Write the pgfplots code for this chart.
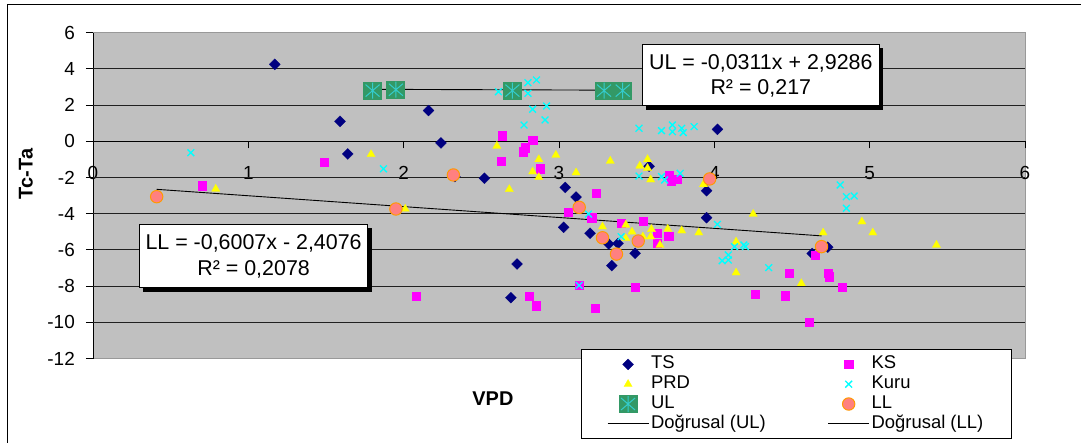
\documentclass[border=0pt]{standalone}
\usepackage{fontspec}
\setmainfont{Liberation Sans}
\usepackage{pgfplots}
\pgfplotsset{compat=1.18}
\definecolor{tsblue}{HTML}{000080}
\definecolor{ksmag}{HTML}{FF00FF}
\definecolor{prdyel}{HTML}{FFFF00}
\definecolor{kurucyan}{HTML}{00FFFF}
\definecolor{ulgreen}{HTML}{339966}
\definecolor{ulstar}{HTML}{33CCCC}
\definecolor{llfill}{HTML}{FF8080}
\definecolor{lledge}{HTML}{FF9900}
\definecolor{plotbg}{HTML}{C0C0C0}
\definecolor{gridc}{HTML}{202020}
\pgfdeclareplotmark{ulmark}{%
  \pgfpathrectangle{\pgfqpoint{-9.5bp}{-9bp}}{\pgfqpoint{19bp}{18bp}}%
  \pgfsetfillcolor{ulgreen}\pgfusepathqfill
  \pgfsetstrokecolor{ulstar}\pgfsetlinewidth{1bp}%
  \pgfpathmoveto{\pgfqpoint{-7bp}{-6bp}}\pgfpathlineto{\pgfqpoint{7bp}{6bp}}%
  \pgfpathmoveto{\pgfqpoint{-7bp}{6bp}}\pgfpathlineto{\pgfqpoint{7bp}{-6bp}}%
  \pgfpathmoveto{\pgfqpoint{0bp}{-8bp}}\pgfpathlineto{\pgfqpoint{0bp}{8bp}}%
  \pgfusepathqstroke
}
\begin{document}
\begin{tikzpicture}
\useasboundingbox (0bp,0bp) rectangle (1081bp,443bp);
\fill[white] (0bp,0bp) rectangle (1081bp,443bp);
\draw[black, line width=1.2bp] (7.7bp,0bp) -- (7.7bp,438.3bp) -- (1081bp,438.3bp);
\begin{axis}[
  at={(93bp,84.5bp)}, anchor=south west,
  scale only axis, width=932bp, height=325.8bp,
  xmin=0, xmax=6, ymin=-12, ymax=6,
  axis x line*=middle, axis y line*=left,
  hide obscured x ticks=false,
  axis background/.style={fill=plotbg, draw=gray!80, line width=1bp},
  axis line style={black, line width=1bp},
  xtick={0,1,2,3,4,5,6}, xticklabels={0,1,2,3,4,5,6},
  ytick={-12,-10,-8,-6,-4,-2,0,2,4,6}, yticklabels={-12,-10,-8,-6,-4,-2,0,2,4,6},
  tick align=outside, major tick length=7bp,
  tick style={black, line width=1bp},
  ticklabel style={font=\fontsize{19}{20}\selectfont},
  xticklabel style={anchor=center, yshift=-25bp},
  yticklabel style={anchor=east, inner xsep=0pt, xshift=-11bp},
  clip=false,
  legend columns=2,
  legend cell align=left,
  legend style={at={(0.5233,0.0282)}, anchor=north west, draw=black, line width=0.8bp, fill=white,
    font=\fontsize{18.5}{19}\selectfont, inner xsep=26bp, inner ysep=5.2bp, row sep=0.8bp,
    nodes={inner xsep=2bp, inner ysep=1bp, text height=13bp, text depth=4bp},
    /tikz/every even column/.append style={column sep=60bp}},
  legend image code/.code={\draw[mark repeat=2,mark phase=2,#1] plot coordinates {(0bp,0bp) (20.5bp,0bp) (41bp,0bp)};},
]
\pgfplotsinvokeforeach{-10,-8,-6,-4,-2,2,4}{\draw[gridc, line width=1bp] (axis cs:0,#1) -- (axis cs:6,#1);}
% TS
\addplot[only marks, mark=square*, mark size=3.9bp, color=tsblue, mark options={rotate=45, fill=tsblue, draw=tsblue, line width=0.2bp}] coordinates {
(1.17,4.25) (1.59,1.10) (1.64,-0.70) (2.16,1.70) (2.24,-0.09) (2.33,-1.95) (2.52,-2.04)
(2.69,-8.64) (2.73,-6.78) (3.03,-4.75) (3.04,-2.55) (3.11,-3.08) (3.20,-5.08) (3.32,-5.67)
(3.34,-6.87) (3.38,-5.64) (3.49,-6.19) (3.58,-1.38) (3.95,-2.73) (3.95,-4.22) (4.02,0.66)
(4.63,-6.2) (4.73,-5.85)};
\addlegendentry{TS}
% KS
\addplot[only marks, mark=square*, mark size=4.1bp, color=ksmag, mark options={fill=ksmag, draw=ksmag, line width=0.2bp}] coordinates {
(0.70,-2.45) (1.49,-1.13) (2.08,-8.55) (2.625,-1.10) (2.634,0.31) (2.77,-0.57) (2.78,-0.35)
(2.81,-8.55) (2.83,0.07) (2.85,-9.08) (2.88,-1.51) (3.06,-3.89) (3.13,-7.96) (3.21,-4.22)
(3.23,-9.21) (3.24,-2.84) (3.40,-4.53) (3.49,-8.07) (3.54,-4.39) (3.63,-5.05) (3.63,-5.64)
(3.705,-5.23) (3.71,-1.86) (3.72,-2.18) (3.76,-2.07) (4.26,-8.45) (4.455,-8.53) (4.48,-7.26)
(4.61,-9.97) (4.65,-6.28) (4.73,-7.26) (4.74,-7.48) (4.82,-8.07)};
\addlegendentry{KS}
% PRD
\addplot[only marks, mark=triangle*, mark size=4.8bp, color=prdyel, mark options={fill=prdyel, draw=prdyel, line width=0.2bp}] coordinates {
(0.79,-2.63) (1.79,-0.72) (2.01,-3.74) (2.60,-0.26) (2.68,-2.65) (2.83,-1.68) (2.87,-1.0)
(2.87,-1.99) (2.98,-0.76) (3.11,-1.73) (3.28,-4.72) (3.33,-1.09) (3.43,-4.62) (3.43,-5.36)
(3.47,-5.0) (3.52,-1.36) (3.54,-5.27) (3.57,-1.0) (3.57,-1.49) (3.59,-2.12) (3.595,-4.86)
(3.59,-5.27) (3.65,-5.73) (3.70,-4.85) (3.79,-4.94) (3.90,-5.05) (3.93,-2.38) (4.14,-5.55)
(4.14,-7.26) (4.25,-4.02) (4.56,-7.85) (4.70,-5.05) (4.95,-4.44) (5.02,-5.05) (5.43,-5.73)};
\addlegendentry{PRD}
% Kuru
\addplot[only marks, mark=x, mark size=4.8bp, color=kurucyan, mark options={line width=1.3bp}] coordinates {
(0.63,-0.63) (1.87,-1.52) (2.61,2.74) (2.80,3.24) (2.855,3.39) (2.80,2.65) (2.83,1.77)
(2.92,1.95) (2.91,1.18) (2.775,0.90) (3.515,0.72) (3.66,0.59) (3.73,0.90) (3.73,0.53)
(3.79,0.72) (3.80,0.48) (3.87,0.81) (3.515,-1.92) (3.66,-1.95) (3.68,-2.14) (3.78,-1.77)
(3.13,-7.96) (3.19,-4.02) (3.40,-5.27) (4.02,-4.59) (4.05,-6.6) (4.09,-6.56) (4.09,-6.28)
(4.13,-5.82) (4.19,-5.73) (4.20,-5.82) (4.35,-6.98) (4.81,-2.41) (4.85,-3.06) (4.90,-3.02)
(4.85,-3.70)};
\addlegendentry{Kuru}
% UL
\addplot[only marks, mark=ulmark, color=ulgreen] coordinates {
(1.80,2.80) (1.95,2.85) (2.70,2.80) (3.29,2.80) (3.41,2.80)};
\addlegendentry{UL}
% LL
\addplot[only marks, mark=*, mark size=6.2bp, color=lledge, mark options={fill=llfill, draw=lledge, line width=1bp}] coordinates {
(0.41,-3.06) (1.95,-3.74) (2.32,-1.86) (3.13,-3.65) (3.28,-5.33) (3.37,-6.23) (3.51,-5.51)
(3.97,-2.08) (4.69,-5.82)};
\addlegendentry{LL}
% trend lines
\addplot[black, line width=0.9bp, no marks] coordinates {(1.80,2.8726) (3.41,2.8226)};
\addlegendentry{Doğrusal (UL)}
\addplot[black, line width=0.9bp, no marks] coordinates {(0.41,-2.6539) (4.69,-5.2249)};
\addlegendentry{Doğrusal (LL)}
\end{axis}
% equation boxes
\fill[black] (143.3bp,151.3bp) rectangle (371.9bp,214.7bp);
\draw[black, fill=white, line width=1bp] (139.3bp,155.3bp) rectangle (367.9bp,218.7bp);
\node[font=\fontsize{21.5}{24}\selectfont] at (253.6bp,199.7bp) {LL = -0,6007x - 2,4076};
\node[font=\fontsize{21.5}{24}\selectfont] at (253.6bp,173.7bp) {R² = 0,2078};
\fill[black] (646.3bp,333bp) rectangle (883.3bp,394.7bp);
\draw[black, fill=white, line width=1bp] (642.3bp,337bp) rectangle (879.3bp,398.7bp);
\node[font=\fontsize{21.5}{24}\selectfont] at (760.8bp,379.7bp) {UL = -0,0311x + 2,9286};
\node[font=\fontsize{21.5}{24}\selectfont] at (760.8bp,354.7bp) {R² = 0,217};
% axis labels
\node[font=\bfseries\fontsize{20}{24}\selectfont, rotate=90] at (25.8bp,269bp) {Tc-Ta};
\node[font=\bfseries\fontsize{20}{24}\selectfont] at (492.9bp,44bp) {VPD};
\end{tikzpicture}
\end{document}
